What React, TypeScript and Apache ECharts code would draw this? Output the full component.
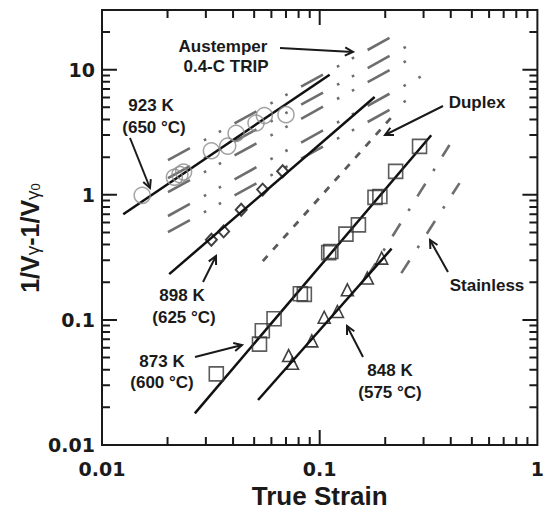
import React, { useEffect, useRef } from 'react';
import * as echarts from 'echarts';

// ---- axis ranges / ticks ----
const X_MIN = 0.01;
const X_MAX = 1;
const Y_MIN = 0.01;
const Y_MAX = 30;
const xDecades = [0.01, 0.1];
const yDecades = [0.01, 0.1, 1, 10];
const xMajorInner = [0.1];
const yMajorInner = [0.1, 1, 10];

// ---- measured data (true strain, 1/Vg - 1/Vg0) ----
const circles923 = [
  [0.0153, 0.99], [0.0215, 1.38], [0.0228, 1.45], [0.0237, 1.52], [0.0318, 2.25],
  [0.0378, 2.45], [0.0413, 3.1], [0.051, 3.75], [0.0557, 4.3], [0.07, 4.37],
];
const diamonds898 = [
  [0.0318, 0.437], [0.0362, 0.51], [0.0436, 0.759], [0.0547, 1.1], [0.0676, 1.54],
];
const squares873 = [
  [0.0335, 0.037], [0.0529, 0.064], [0.0545, 0.082], [0.0617, 0.102], [0.0815, 0.162],
  [0.085, 0.16], [0.11, 0.345], [0.1125, 0.352], [0.132, 0.485], [0.1506, 0.575],
  [0.1795, 0.953], [0.189, 0.97], [0.2233, 1.54], [0.2875, 2.44],
];
const triangles848 = [
  [0.072, 0.0519], [0.075, 0.045], [0.092, 0.068], [0.1049, 0.105], [0.1206, 0.1167],
  [0.134, 0.174], [0.1655, 0.216], [0.1926, 0.312],
];

// ---- fitted lines ----
const fit923 = [[0.01252, 0.7], [0.1111, 9.12]];
const fit898 = [[0.02036, 0.232], [0.1788, 6.05]];
const fit873 = [[0.0267, 0.0179], [0.3253, 2.99]];
const fit848 = [[0.0521, 0.0229], [0.2139, 0.371]];

// ---- literature lines ----
const austemperLines = [
  [[0.0201, 1.89], [0.2208, 18.9]],
  [[0.0201, 1.36], [0.2506, 15.3]],
  [[0.0201, 1.05], [0.2506, 11.8]],
  [[0.0201, 0.677], [0.2937, 8.89]],
  [[0.0201, 0.503], [0.2506, 5.67]],
];
const duplexLine = [[0.0548, 0.295], [0.2163, 4.26]];
const stainlessLines = [
  [[0.166, 0.2237], [0.3947, 2.5]],
  [[0.2371, 0.2364], [0.4387, 1.24]],
];

// ---- annotations (pixel positions) ----
const labels: [string, number, number][] = [
  ['Austemper', 223, 46], ['0.4-C TRIP', 226, 66],
  ['923 K', 151, 105], ['(650 °C)', 154, 127],
  ['898 K', 182, 295], ['(625 °C)', 184, 317],
  ['873 K', 162, 361], ['(600 °C)', 162, 382],
  ['848 K', 390, 370], ['(575 °C)', 390, 392],
  ['Duplex', 477, 102], ['Stainless', 487, 285],
];
const arrows: [number, number, number, number][] = [
  [280, 48, 353, 52],
  [130, 138, 150, 188],
  [203, 282, 216, 256],
  [195, 357, 242, 345],
  [363, 357, 347, 326],
  [443, 106, 385, 135],
  [448, 272, 430, 240],
];

const TXT = '#1a1a1a';
const SANS = 'Liberation Sans, Arial, sans-serif';
const GRID = { left: 102, top: 10, width: 436, height: 437 };

function fmtLog(v: number) {
  const l = Math.log10(v);
  const r = Math.round(l);
  if (Math.abs(l - r) > 1e-6) return '';
  return r < 0 ? Math.pow(10, r).toFixed(-r) : String(Math.pow(10, r));
}

function minorTicks(decades: number[], max: number) {
  const out: number[] = [];
  decades.forEach((d) => {
    for (let k = 2; k <= 9; k++) {
      const v = +(d * k).toPrecision(6);
      if (v < max) out.push(v);
    }
  });
  return out;
}

export default function App() {
  const ref = useRef<HTMLDivElement>(null);
  useEffect(() => {
    const chart = echarts.init(ref.current!, null, { renderer: 'svg' });

    const scatter = (name: string, data: number[][], symbol: string, size: any, color: string, bw: number) => ({
      name, type: 'scatter', data, symbol, symbolSize: size, z: 5,
      itemStyle: { color: 'rgba(0,0,0,0)', borderColor: color, borderWidth: bw },
    });
    const line = (name: string, data: any[], color: string, width: number, type: any, z: number) => ({
      name, type: 'line', data, symbol: 'none', z,
      lineStyle: { color, width, type, cap: 'butt' },
    });

    // tick segments in data space: length in px converted with the axis decade size
    const xPxPerDecade = GRID.width / Math.log10(X_MAX / X_MIN);
    const yPxPerDecade = GRID.height / Math.log10(Y_MAX / Y_MIN);
    const fx = (len: number) => Math.pow(10, len / xPxPerDecade);
    const fy = (len: number) => Math.pow(10, len / yPxPerDecade);
    const tickSegs: any[] = [];
    const addX = (v: number, len: number) => {
      tickSegs.push([v, Y_MIN], [v, Y_MIN * fy(len)], ['-', '-']);
      tickSegs.push([v, Y_MAX], [v, Y_MAX / fy(len)], ['-', '-']);
    };
    const addY = (v: number, len: number) => {
      tickSegs.push([X_MIN, v], [X_MIN * fx(len), v], ['-', '-']);
      tickSegs.push([X_MAX, v], [X_MAX / fx(len), v], ['-', '-']);
    };
    minorTicks(xDecades, X_MAX).forEach((v) => addX(v, 8));
    xMajorInner.forEach((v) => addX(v, 15));
    minorTicks(yDecades, Y_MAX).forEach((v) => addY(v, 8));
    yMajorInner.forEach((v) => addY(v, 15));

    const series: any[] = [];
    austemperLines.forEach((d, i) =>
      series.push(line('Austemper ' + i, d, '#6e6e6e', 2.6, [25, 16, 2.6, 14.4, 2.6, 15.4], 2)));
    series.push(line('Duplex', duplexLine, '#5a5a5a', 2.8, [7, 8.4], 2));
    stainlessLines.forEach((d, i) =>
      series.push(line('Stainless ' + i, d, '#6e6e6e', 2.6, [15, 15, 2.6, 14.4], 2)));
    series.push(line('fit 923', fit923, '#111', 2.5, 'solid', 3));
    series.push(line('fit 898', fit898, '#111', 2.5, 'solid', 3));
    series.push(line('fit 873', fit873, '#111', 2.5, 'solid', 3));
    series.push(line('fit 848', fit848, '#111', 2.5, 'solid', 3));
    series.push(scatter('923 K', circles923, 'circle', 16, '#8c8c8c', 1.5));
    series.push(scatter('898 K', diamonds898, 'diamond', [11, 12], '#111', 2));
    series.push(scatter('873 K', squares873, 'rect', 14, '#333', 1.6));
    series.push(scatter('848 K', triangles848, 'triangle', 12, '#111', 1.6));
    series.push({ ...line('ticks', tickSegs, TXT, 2, 'solid', 8), connectNulls: false, clip: false, silent: true });

    const labelStyle = { fontFamily: 'DejaVu Sans', fontWeight: 'bold', fontSize: 19, color: TXT, formatter: fmtLog };

    const graphics: any[] = [];
    labels.forEach(([t, x, y]) => {
      graphics.push({
        type: 'text', x, y, z: 50,
        style: { text: t, fill: TXT, font: `bold 17px ${SANS}`, align: 'center', verticalAlign: 'middle' },
      });
    });
    arrows.forEach(([x1, y1, x2, y2]) => {
      const ang = Math.atan2(y2 - y1, x2 - x1);
      const L = 9, a = (27 * Math.PI) / 180;
      const p1 = [x2 - L * Math.cos(ang - a), y2 - L * Math.sin(ang - a)];
      const p2 = [x2 - L * Math.cos(ang + a), y2 - L * Math.sin(ang + a)];
      graphics.push({ type: 'line', z: 50, shape: { x1, y1, x2, y2 }, style: { stroke: TXT, lineWidth: 2 } });
      graphics.push({ type: 'polyline', z: 50, shape: { points: [p1, [x2, y2], p2] }, style: { stroke: TXT, lineWidth: 2, fill: null } });
    });
    graphics.push({
      type: 'text', x: 28, y: 238, rotation: Math.PI / 2, z: 50,
      style: {
        text: '{m|1/V}{s|γ}{m|-1/V}{s|γ}{ss|0}',
        align: 'center', verticalAlign: 'middle', fill: TXT,
        font: `bold 25px ${SANS}`,
        rich: {
          m: { fontFamily: SANS, fontWeight: 'bold', fontSize: 25, fill: TXT, verticalAlign: 'bottom', lineHeight: 28 },
          s: { fontFamily: SANS, fontWeight: 'normal', fontSize: 19, fill: TXT, verticalAlign: 'bottom', lineHeight: 16 },
          ss: { fontFamily: SANS, fontWeight: 'normal', fontSize: 13, fill: TXT, verticalAlign: 'bottom', lineHeight: 14 },
        },
      },
    });

    const option: any = {
      animation: false,
      backgroundColor: '#fff',
      grid: { ...GRID, show: true, borderColor: TXT, borderWidth: 2, containLabel: false },
      xAxis: {
        type: 'log', logBase: 10, min: X_MIN, max: X_MAX,
        axisLine: { show: false }, axisTick: { show: false }, splitLine: { show: false },
        axisLabel: { ...labelStyle, margin: 14 },
        name: 'True Strain', nameLocation: 'middle', nameGap: 38,
        nameTextStyle: { fontFamily: SANS, fontWeight: 'bold', fontSize: 26, color: TXT },
      },
      yAxis: {
        type: 'log', logBase: 10, min: Y_MIN, max: Y_MAX,
        axisLine: { show: false }, axisTick: { show: false }, splitLine: { show: false },
        axisLabel: { ...labelStyle, margin: 7 },
      },
      graphic: graphics,
      series,
    };
    chart.setOption(option);
    return () => chart.dispose();
  }, []);
  return <div ref={ref} style={{ position: 'absolute', left: 0, top: 0, width: 547, height: 514 }} />;
}
